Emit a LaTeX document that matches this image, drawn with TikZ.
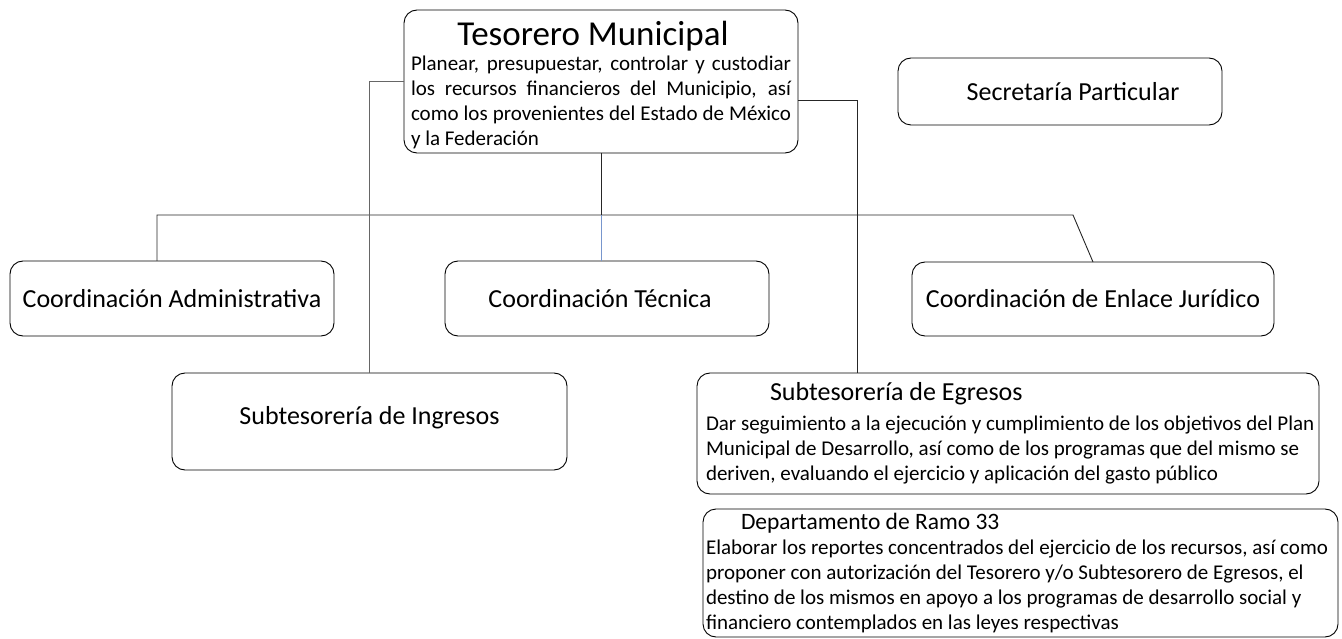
\documentclass[tikz,border=0pt]{standalone}
\usepackage{fontspec}
\setmainfont{Carlito}
\usepackage{tikz}
\usetikzlibrary{positioning,calc}
\tikzset{
  box/.style={draw, rounded corners=13pt, line width=0.9pt, inner sep=0pt, outer sep=0pt},
  link/.style={draw=black!85, line width=0.9pt},
  linkgray/.style={draw=black!60, line width=0.9pt},
  linkblue/.style={draw={rgb,255:red,120;green,150;blue,205}, line width=0.6pt}
}
\newcommand{\bigtext}{\fontsize{26}{31}\selectfont}
\newcommand{\bodytext}{\fontsize{21}{25}\selectfont}
\newcommand{\jline}[1]{\makebox[\linewidth][s]{#1}\par}

\begin{document}
\begin{tikzpicture}[x=1pt,y=-1pt]
      \useasboundingbox (0,0) rectangle (1342,639);

      % top level
      \node[box, minimum width=394pt, minimum height=143pt] (tesorero) at (601,81.5)
        {\parbox{380pt}{\vspace*{8pt}\centering\fontsize{35}{38}\selectfont\hspace*{-16pt}Tesorero Municipal\par
          \bodytext\raggedright
          \jline{Planear, presupuestar, controlar y custodiar}
          \jline{los recursos financieros del Municipio, así}
          \jline{como los provenientes del Estado de México}
          y la Federación\par}};
      \node[box, minimum width=324pt, minimum height=67pt] (secretaria) at (1060,91.5)
        {\bigtext\hspace*{26pt}Secretaría Particular};

      % coordinaciones
      \node[box, minimum width=324pt, minimum height=75pt] (adm) at (172,298.5)
        {\bigtext Coordinación Administrativa};
      \node[box, minimum width=324pt, minimum height=75pt] (tecnica) at (607,298.5)
        {\bigtext\hspace*{-14pt}Coordinación Técnica};
      \node[box, minimum width=362pt, minimum height=74pt] (enlace) at (1093,299)
        {\bigtext Coordinación de Enlace Jurídico};

      % subtesorerias
      \node[box, minimum width=395pt, minimum height=97pt] (ingresos) at (369.5,421.5)
        {\bigtext\raisebox{12pt}{Subtesorería de Ingresos}};
      \node[box, minimum width=622pt, minimum height=121pt] (egresos) at (1008,433.5)
        {\parbox{604pt}{\bigtext\hspace*{64pt}Subtesorería de Egresos\par\vspace{5pt}
          \bodytext
          \mbox{Dar seguimiento a la ejecución y cumplimiento de los objetivos del Plan}\\
          \mbox{Municipal de Desarrollo, así como de los programas que del mismo se}\\
          \mbox{deriven, evaluando el ejercicio y aplicación del gasto público}\par}};
      \node[box, minimum width=635pt, minimum height=128pt] (ramo) at (1020.5,573)
        {\parbox{629pt}{\fontsize{23.5}{27}\selectfont\hspace*{35pt}Departamento de Ramo 33\par
          \bodytext
          \mbox{Elaborar los reportes concentrados del ejercicio de los recursos, así como}\\
          \mbox{proponer con autorización del Tesorero y/o Subtesorero de Egresos, el}\\
          \mbox{destino de los mismos en apoyo a los programas de desarrollo social y}\\
          \mbox{financiero contemplados en las leyes respectivas}\par}};

      \coordinate (busL) at (157,215);
      \coordinate (busR) at (1073,215);
      \coordinate (egrTop) at (857,373);

      \draw[link] (tesorero.south) -- (tesorero.south |- busL);
      \draw[link] (adm.north -| busL) -- (busL) -- (busR) -- (enlace.north);
      \draw[linkblue] (tesorero.south |- busL) -- (tesorero.south |- tecnica.north);
      \draw[linkgray] (tesorero.west) -| (ingresos.north);
      \draw[link] ([yshift=-19pt]tesorero.east) -| (egrTop);
    \end{tikzpicture}
\end{document}
